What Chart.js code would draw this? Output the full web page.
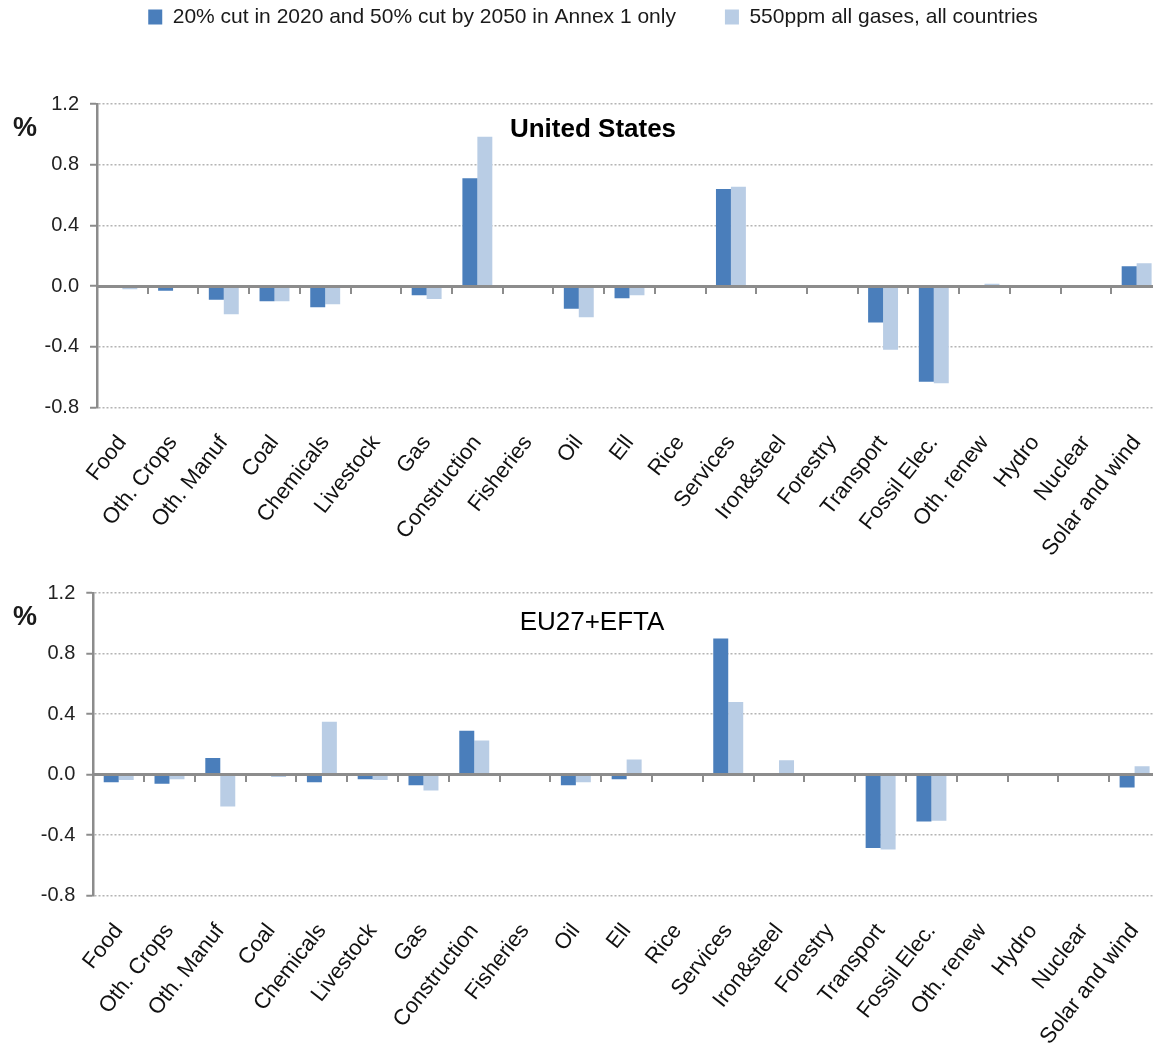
<!DOCTYPE html>
<html>
<head>
<meta charset="utf-8">
<title>Sector output changes: United States and EU27+EFTA</title>
<script src="https://cdn.jsdelivr.net/npm/chart.js@4.4.1/dist/chart.umd.min.js"></script>
<style>
  html, body { margin: 0; padding: 0; background: #ffffff; }
  #frame { position: relative; width: 1153px; height: 1052px; overflow: hidden; background: #ffffff; }
  #frame canvas { position: absolute; left: 0; }
  #usChart { top: 0; }
  #euChart { top: 570px; }
</style>
</head>
<body>
<div id="frame">
  <canvas id="usChart" width="1186" height="570"></canvas>
  <canvas id="euChart" width="1186" height="482"></canvas>
</div>
<script>
// Sectors on the category axis
const sectors = [
  'Food', 'Oth. Crops', 'Oth. Manuf', 'Coal', 'Chemicals', 'Livestock', 'Gas',
  'Construction', 'Fisheries', 'Oil', 'Ell', 'Rice', 'Services', 'Iron&steel',
  'Forestry', 'Transport', 'Fossil Elec.', 'Oth. renew', 'Hydro', 'Nuclear',
  'Solar and wind'
];

// Scenario names
const scenarioAnnex1 = '20% cut in 2020 and 50% cut by 2050 in Annex 1 only';
const scenario550 = '550ppm all gases, all countries';

// United States, % change by sector
const usAnnex1 = [-0.01, -0.03, -0.09, -0.10, -0.14, 0, -0.06, 0.71, 0, -0.15, -0.08, 0, 0.64, 0, 0, -0.24, -0.63, 0.005, 0, 0, 0.13];
const us550    = [-0.02, -0.005, -0.185, -0.10, -0.12, 0, -0.085, 0.985, 0, -0.205, -0.06, 0, 0.655, 0, 0, -0.42, -0.64, 0.015, 0, 0, 0.15];

// EU27+EFTA, % change by sector
const euAnnex1 = [-0.05, -0.06, 0.11, 0, -0.05, -0.03, -0.07, 0.29, 0, -0.07, -0.03, 0, 0.90, 0, 0, -0.485, -0.31, 0, 0, 0, -0.085];
const eu550    = [-0.035, -0.03, -0.21, -0.015, 0.35, -0.035, -0.105, 0.225, 0, -0.05, 0.10, 0, 0.48, 0.095, 0, -0.495, -0.305, 0, 0, 0, 0.055];

// Value axis range
const yMin = -0.8;
const yMax = 1.2;
const yStep = 0.4;

const darkBlue = '#4a7ebb';
const lightBlue = '#b9cde5';
const axisGrey = '#8c8c8c';
const plainFont = "'Liberation Sans', Arial, sans-serif";

// Draws the unit sign to the left of the value axis
const unitMark = {
  id: 'unitMark',
  afterDraw(chart, args, opts) {
    const { ctx, chartArea, scales } = chart;
    ctx.save();
    ctx.font = 'bold 27px ' + plainFont;
    ctx.fillStyle = '#1a1a1a';
    ctx.textAlign = 'center';
    ctx.textBaseline = 'middle';
    ctx.fillText(opts.text, scales.y.left + opts.dx, chartArea.top + opts.dy);
    ctx.restore();
  }
};

function panel(canvasId, p) {
  return new Chart(document.getElementById(canvasId), {
    type: 'bar',
    data: {
      labels: sectors,
      datasets: [
        { label: scenarioAnnex1, data: p.first, backgroundColor: darkBlue, borderWidth: 0, xAxisID: 'x', yAxisID: 'y' },
        { label: scenario550, data: p.second, backgroundColor: lightBlue, borderWidth: 0, xAxisID: 'x', yAxisID: 'y' }
      ]
    },
    plugins: [unitMark],
    options: {
      responsive: false,
      devicePixelRatio: 1,
      animation: false,
      events: [],
      categoryPercentage: 0.59,
      barPercentage: 1.0,
      layout: { padding: p.padding },
      plugins: {
        tooltip: { enabled: false },
        legend: {
          display: p.legend,
          position: 'top',
          labels: {
            boxWidth: 14,
            boxHeight: 15,
            padding: 49,
            color: '#1a1a1a',
            font: { family: plainFont, size: 21 }
          }
        },
        title: {
          display: true,
          text: p.title,
          weight: 500,
          color: '#000000',
          font: { family: plainFont, size: 26, weight: p.titleWeight },
          padding: p.titlePadding
        },
        unitMark: { text: '%', dx: 1, dy: 25 }
      },
      scales: {
        x: {
          type: 'category',
          position: 'bottom',
          offset: true,
          grid: { display: false },
          border: { display: false },
          ticks: {
            autoSkip: false,
            minRotation: 52,
            maxRotation: 52,
            padding: 15,
            color: '#111111',
            font: { family: plainFont, size: 22 }
          },
          afterFit: s => { s.height = p.xHeight; }
        },
        x2: {
          type: 'category',
          axis: 'x',
          position: { y: 0 },
          offset: true,
          grid: {
            display: true,
            offset: true,
            drawOnChartArea: false,
            drawTicks: true,
            tickLength: 6,
            color: axisGrey,
            lineWidth: 2
          },
          border: { display: true, color: axisGrey, width: 3, z: 1 },
          ticks: { display: false },
          afterFit: s => { s.height = 0; }
        },
        y: {
          type: 'linear',
          position: 'left',
          min: yMin,
          max: yMax,
          ticks: {
            stepSize: yStep,
            padding: 11,
            color: '#222222',
            font: { family: plainFont, size: 20 },
            callback: v => Number(v).toFixed(1)
          },
          grid: {
            color: '#b4b4b4',
            lineWidth: 1.5,
            drawTicks: true,
            tickLength: 7,
            tickColor: axisGrey,
            tickWidth: 2,
            tickBorderDash: []
          },
          border: { display: true, color: axisGrey, width: 2.5, dash: [2, 2] },
          afterFit: s => { s.width = p.yWidth; }
        }
      }
    }
  });
}

panel('usChart', {
  first: usAnnex1,
  second: us550,
  legend: true,
  title: 'United States',
  titleWeight: 'bold',
  titlePadding: { top: 76.9, bottom: -41.6 },
  padding: { top: -42.5, left: 24, right: 24, bottom: 0 },
  xHeight: 162.5,
  yWidth: 73
});

panel('euChart', {
  first: euAnnex1,
  second: eu550,
  legend: false,
  title: 'EU27+EFTA',
  titleWeight: 'normal',
  titlePadding: { top: 36.4, bottom: -45.3 },
  padding: { top: 0, left: 24, right: 26, bottom: 0 },
  xHeight: 156.3,
  yWidth: 69.3
});
</script>
</body>
</html>
